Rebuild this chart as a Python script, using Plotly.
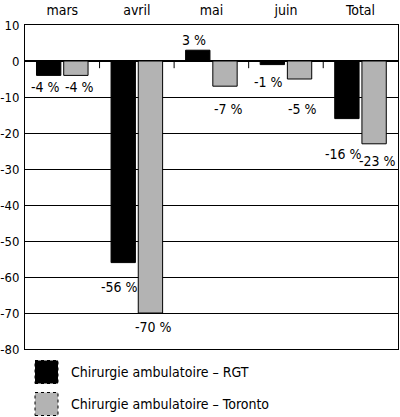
import plotly.graph_objects as go

categories = ["mars", "avril", "mai", "juin", "Total"]
rgt = [-4, -56, 3, -1, -16]
toronto = [-4, -70, -7, -5, -23]
series_names = ["Chirurgie ambulatoire – RGT", "Chirurgie ambulatoire – Toronto"]
y_ticks = [10, 0, -10, -20, -30, -40, -50, -60, -70, -80]

# pixel offsets of value labels from bar ends (style only)
rgt_label_offsets = [12, 24, 10, 17, 35]
tor_label_offsets = [12, 14, 23, 30, 17]

FONT = "Liberation Sans Narrow, DejaVu Sans Condensed, Arial Narrow, sans-serif"
colors = ["#000000", "#b3b3b3"]

W, H = 400, 417
ML, MR, MT, MB = 25, 2, 25, 68
PW, PH = W - ML - MR, H - MT - MB


def px_x(x):
    return (x - ML) / PW


def px_y(y):
    return (H - MB - y) / PH


fig = go.Figure()
for vals, name, col in [(rgt, series_names[0], colors[0]), (toronto, series_names[1], colors[1])]:
    fig.add_trace(go.Bar(x=categories, y=vals, name=name,
                         marker=dict(color=col, line=dict(color="#000000", width=1)),
                         showlegend=False))

annotations = []
for vals, offs, xs in [(rgt, rgt_label_offsets, -17), (toronto, tor_label_offsets, 17)]:
    for c, v, o in zip(categories, vals, offs):
        annotations.append(dict(x=c, y=v, xref="x", yref="y", text=f"{v} %",
                                showarrow=False, xshift=xs,
                                yshift=(o if v > 0 else -o),
                                yanchor="middle", xanchor="center",
                                font=dict(family=FONT, size=14, color="#000")))

# legend drawn manually with large swatches
legend_py = [372, 404]
shapes = []
for name, col, yc in zip(series_names, colors, legend_py):
    annotations.append(dict(x=px_x(69), y=px_y(yc), xref="paper", yref="paper", text=name,
                            showarrow=False, xanchor="left", yanchor="middle",
                            font=dict(family=FONT, size=14, color="#000")))
    shapes.append(dict(type="rect", xref="paper", yref="paper",
                       x0=px_x(35), x1=px_x(58), y0=px_y(yc + 11.5), y1=px_y(yc - 11.5),
                       fillcolor=col, line=dict(color="#000", width=1, dash="dot")))

# small ticks at category boundaries on the zero line
for i in range(len(categories) - 1):
    shapes.append(dict(type="line", xref="x", yref="y", x0=i + 0.5, x1=i + 0.5,
                       y0=0, y1=-2, line=dict(color="#000", width=1)))

fig.update_layout(
    width=W, height=H,
    margin=dict(l=ML, r=MR, t=MT, b=MB),
    paper_bgcolor="white", plot_bgcolor="white",
    barmode="group", bargap=0.27, bargroupgap=0.105,
    font=dict(family=FONT, size=14, color="#000"),
    annotations=annotations, shapes=shapes,
    xaxis=dict(side="top", showgrid=False, ticks="", showline=True, linecolor="#000",
               linewidth=1, mirror=True, tickfont=dict(family=FONT, size=14),
               ticklabelstandoff=3, automargin=False),
    yaxis=dict(range=[-80, 10], tickvals=y_ticks, ticktext=[str(v) for v in y_ticks],
               showgrid=True, gridcolor="#000",
               gridwidth=1, zeroline=True, zerolinecolor="#000", zerolinewidth=1.5,
               showline=True, linecolor="#000", linewidth=1, mirror=True, ticks="",
               tickfont=dict(family=FONT, size=13), ticklabelstandoff=2, automargin=False),
)

fig.write_html("out.html")
